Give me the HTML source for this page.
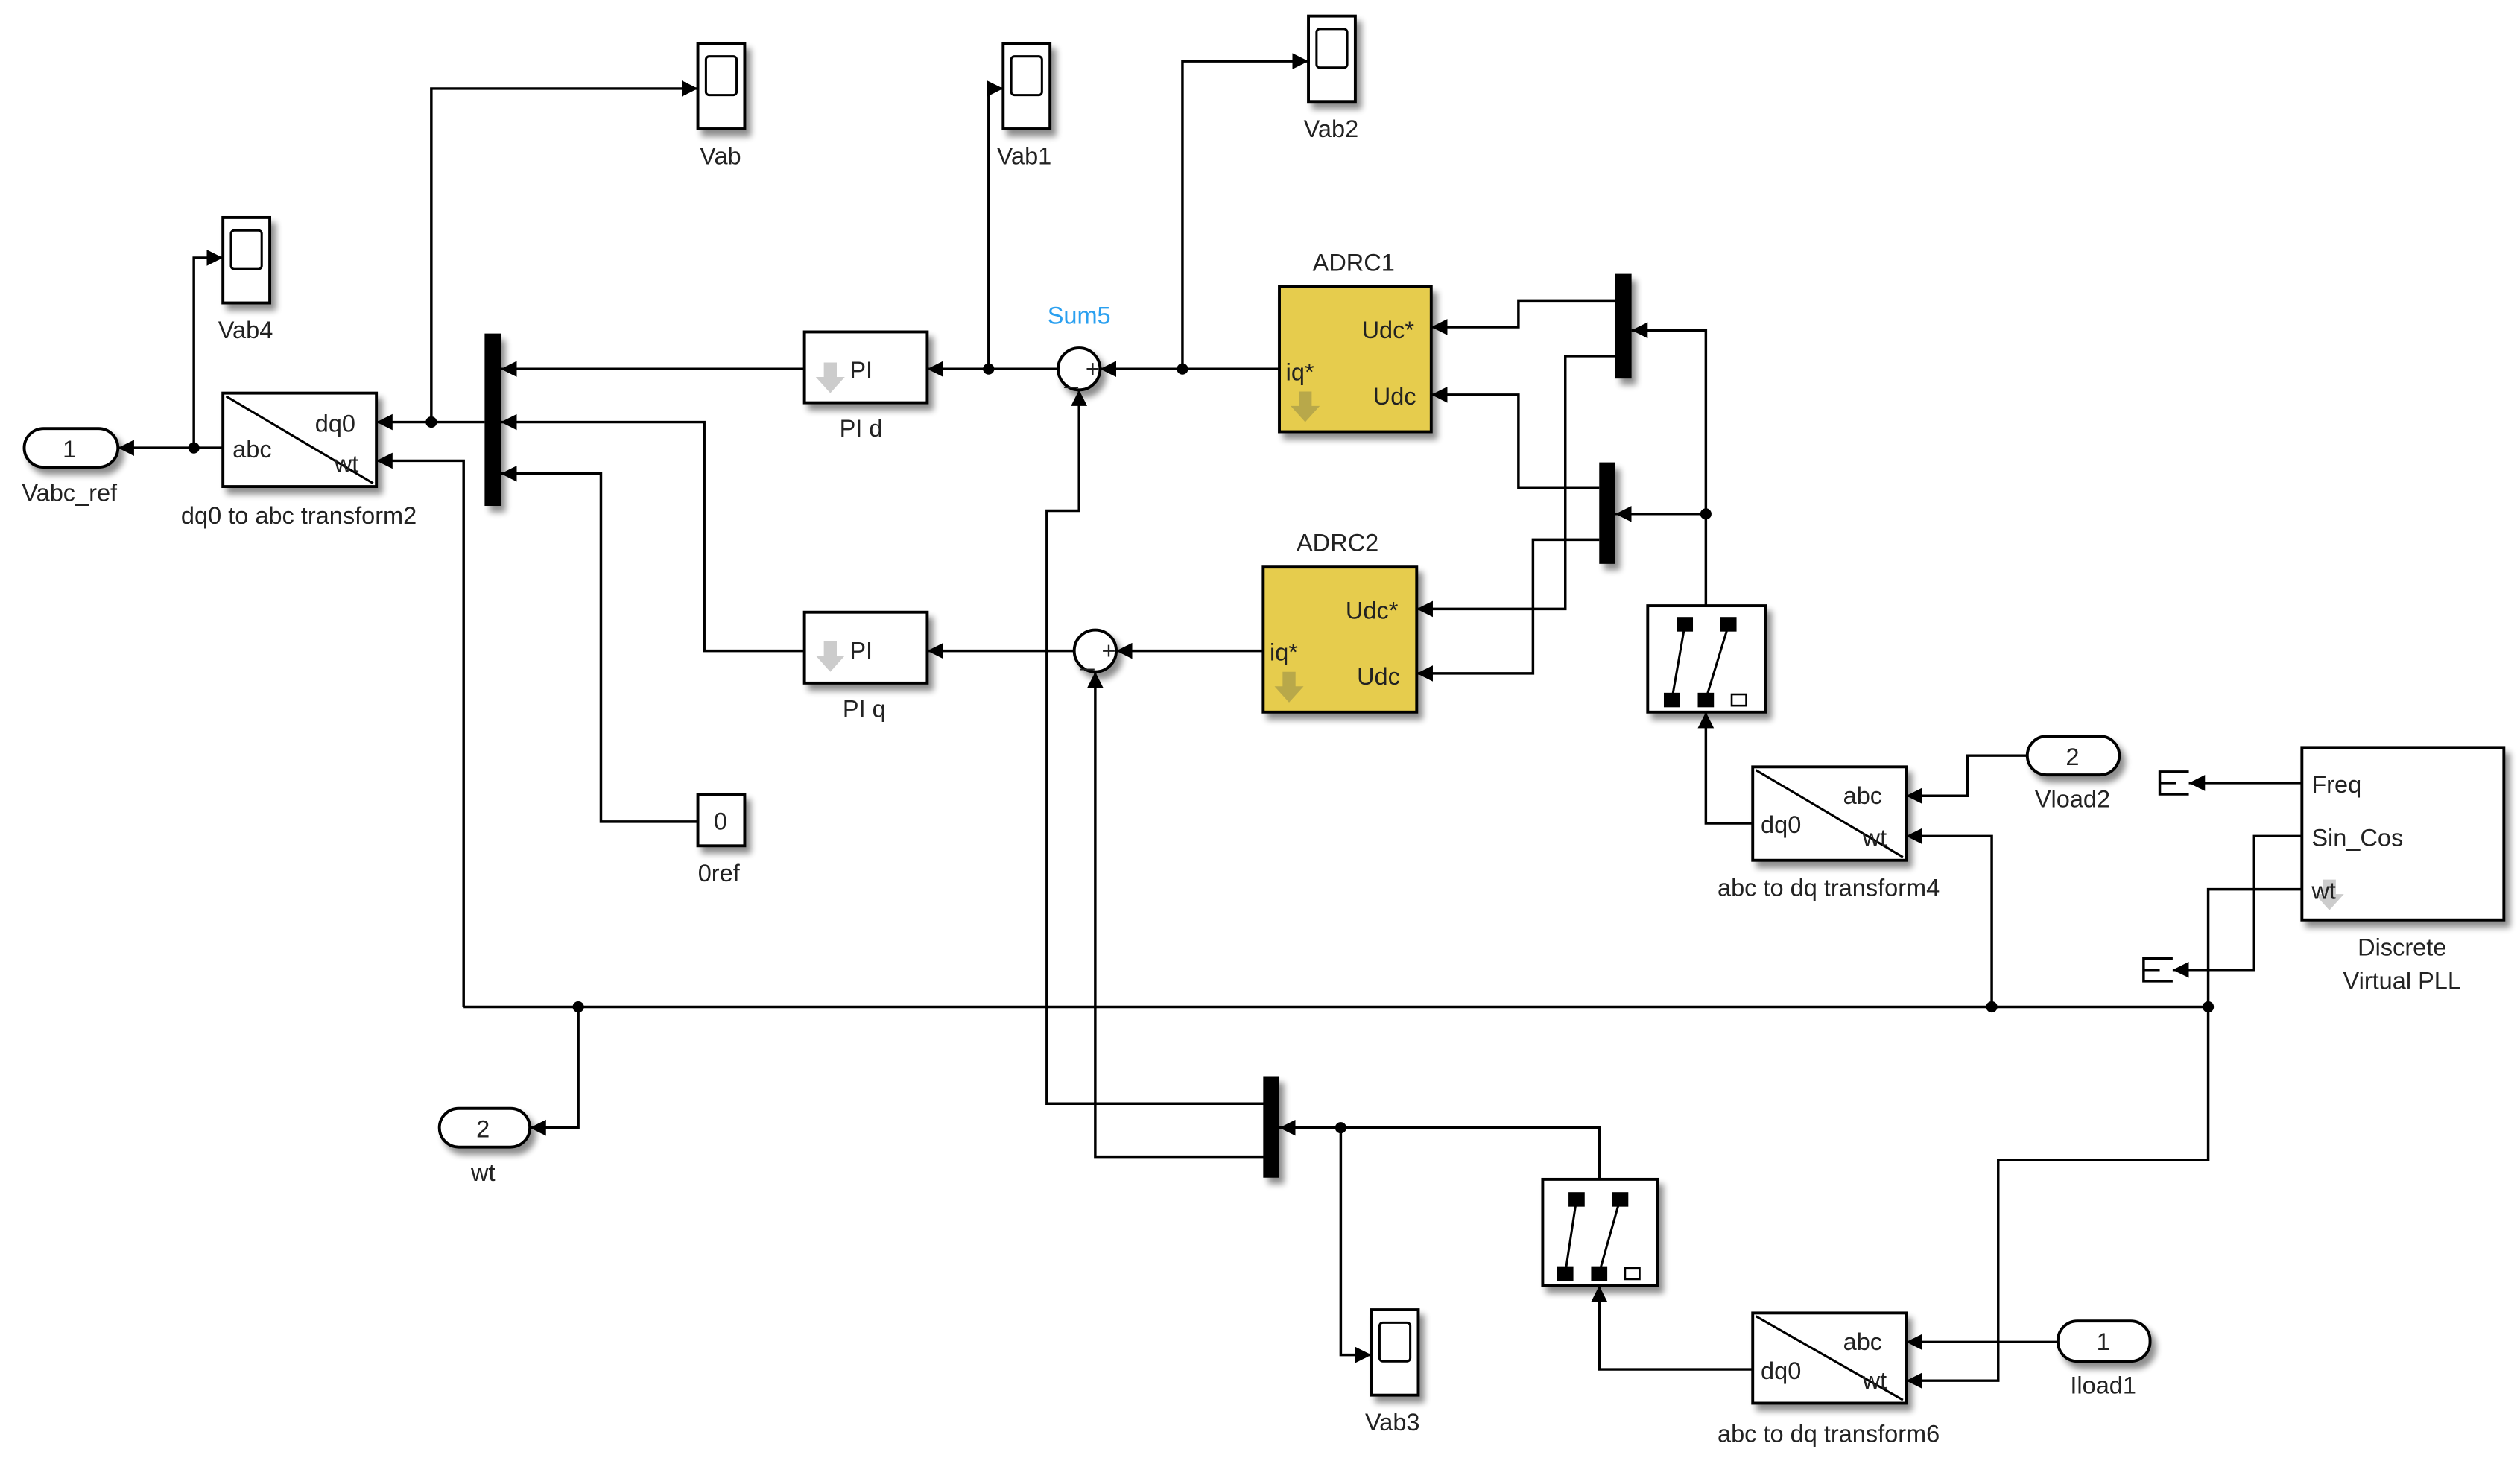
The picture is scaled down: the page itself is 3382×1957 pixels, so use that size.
<!DOCTYPE html>
<html><head><meta charset="utf-8"><style>
html,body{margin:0;padding:0;background:#fff;}
svg{display:block;}
text{font-family:"Liberation Sans",sans-serif;font-size:15px;fill:#222;}
</style></head><body>
<svg width="3382" height="1957" viewBox="0 0 1560 905" preserveAspectRatio="none" xmlns="http://www.w3.org/2000/svg">
<defs>
<marker id="a" markerUnits="userSpaceOnUse" markerWidth="12" markerHeight="12" refX="10" refY="6" orient="auto">
<path d="M0,1 L10,6 L0,11 Z" fill="#000"/></marker>
<filter id="sh" x="-20%" y="-20%" width="150%" height="150%"><feGaussianBlur in="SourceAlpha" stdDeviation="2"/><feOffset dx="3" dy="4"/><feComponentTransfer><feFuncA type="linear" slope="0.45"/></feComponentTransfer><feMerge><feMergeNode/><feMergeNode in="SourceGraphic"/></feMerge></filter>
<g id="darr"><path d="M-4,0 h8 v9 h5 l-9,10 l-9,-10 h5 z" fill="#ccc"/></g>
<g id="darr2"><path d="M-4,0 h8 v9 h5 l-9,10 l-9,-10 h5 z" fill="#b8a84a"/></g>
</defs>

<g fill="none" stroke="#000" stroke-width="1.6">
<!-- Vabc_ref / Vab4 -->
<polyline points="138,278 73,278" marker-end="url(#a)"/>
<polyline points="120,278 120,160 138,160" marker-end="url(#a)"/>
<!-- mux out to dq0, Vab -->
<polyline points="300,262 233,262" marker-end="url(#a)"/>
<polyline points="267,262 267,55 432,55" marker-end="url(#a)"/>
<!-- wt to transform2 -->
<polyline points="287,625 287,286 233,286" marker-end="url(#a)"/>
<!-- main line -->
<polyline points="287,625 1367,625"/>
<polyline points="358,625 358,700 328,700" marker-end="url(#a)"/>
<polyline points="1233,625 1233,519 1180,519" marker-end="url(#a)"/>
<polyline points="1425,552 1367,552 1367,720 1237,720 1237,857 1180,857" marker-end="url(#a)"/>
<polyline points="1425,486 1355,486" marker-end="url(#a)"/>
<polyline points="1425,519 1395,519 1395,602 1345,602" marker-end="url(#a)"/>
<!-- mux inputs -->
<polyline points="498,229 310,229" marker-end="url(#a)"/>
<polyline points="498,404 436,404 436,262 310,262" marker-end="url(#a)"/>
<polyline points="432,510 372,510 372,294 310,294" marker-end="url(#a)"/>
<!-- sum5 -->
<polyline points="655,229 574,229" marker-end="url(#a)"/>
<polyline points="612,229 612,55 621,55" marker-end="url(#a)"/>
<polyline points="792,229 681,229" marker-end="url(#a)"/>
<polyline points="732,229 732,38 810,38" marker-end="url(#a)"/>
<polyline points="785,685 648,685 648,317 668,317 668,242" marker-end="url(#a)"/>
<!-- sum2 -->
<polyline points="665,404 574,404" marker-end="url(#a)"/>
<polyline points="782,404 691,404" marker-end="url(#a)"/>
<polyline points="785,718 678,718 678,417" marker-end="url(#a)"/>
<!-- mux2 bottom -->
<polyline points="990,732 990,700 792,700" marker-end="url(#a)"/>
<polyline points="830,700 830,841 849,841" marker-end="url(#a)"/>
<polyline points="1085,850 990,850 990,798" marker-end="url(#a)"/>
<polyline points="1274,833 1180,833" marker-end="url(#a)"/>
<!-- transform4 -->
<polyline points="1255,469 1218,469 1218,494 1180,494" marker-end="url(#a)"/>
<polyline points="1085,511 1056,511 1056,442" marker-end="url(#a)"/>
<!-- switch1 to muxes -->
<polyline points="1056,376 1056,205 1010,205" marker-end="url(#a)"/>
<polyline points="1056,319 1000,319" marker-end="url(#a)"/>
<polyline points="1000,187 940,187 940,203 886,203" marker-end="url(#a)"/>
<polyline points="1000,221 969,221 969,378 877,378" marker-end="url(#a)"/>
<polyline points="990,303 940,303 940,245 886,245" marker-end="url(#a)"/>
<polyline points="990,335 949,335 949,418 877,418" marker-end="url(#a)"/>
</g>

<!-- junction dots -->
<g fill="#000">
<circle cx="120" cy="278" r="3.5"/><circle cx="267" cy="262" r="3.5"/>
<circle cx="358" cy="625" r="3.5"/><circle cx="1233" cy="625" r="3.5"/><circle cx="1367" cy="625" r="3.5"/>
<circle cx="612" cy="229" r="3.5"/><circle cx="732" cy="229" r="3.5"/>
<circle cx="830" cy="700" r="3.5"/><circle cx="1056" cy="319" r="3.5"/>
</g>

<!-- terminators -->
<g fill="none" stroke="#000" stroke-width="1.6">
<path d="M1355,479 h-18 v14 h18 M1337,486 h10"/>
<path d="M1345,595 h-18 v14 h18 M1327,602 h10"/>
</g>

<!-- blocks -->
<g filter="url(#sh)" stroke="#000" stroke-width="1.8" fill="#fff">
<rect x="432" y="27" width="29" height="53"/>
<rect x="621" y="27" width="29" height="53"/>
<rect x="810" y="10" width="29" height="53"/>
<rect x="138" y="135" width="29" height="53"/>
<rect x="849" y="813" width="29" height="53"/>
<rect x="138" y="244" width="95" height="58"/>
<rect x="498" y="206" width="76" height="44"/>
<rect x="498" y="380" width="76" height="44"/>
<rect x="432" y="493" width="29" height="32"/>
<circle cx="668" cy="229" r="13"/>
<circle cx="678" cy="404" r="13"/>
<rect x="792" y="178" width="94" height="90" fill="#e6cc4e"/>
<rect x="782" y="352" width="95" height="90" fill="#e6cc4e"/>
<rect x="1020" y="376" width="73" height="66"/>
<rect x="955" y="732" width="71" height="66"/>
<rect x="1085" y="476" width="95" height="58"/>
<rect x="1085" y="815" width="95" height="56"/>
<rect x="1425" y="464" width="125" height="107"/>
<rect x="15" y="266" width="58" height="24" rx="12"/>
<rect x="272" y="688" width="56" height="24" rx="12"/>
<rect x="1255" y="457" width="57" height="24" rx="12"/>
<rect x="1274" y="820" width="57" height="25" rx="12"/>
</g>
<g filter="url(#sh)" fill="#000">
<rect x="300" y="207" width="10" height="107"/>
<rect x="782" y="668" width="10" height="63"/>
<rect x="1000" y="170" width="10" height="65"/>
<rect x="990" y="287" width="10" height="63"/>
</g>

<!-- scope inner screens -->
<g fill="#fff" stroke="#000" stroke-width="1.4">
<rect x="437" y="35" width="19" height="24" rx="2"/>
<rect x="626" y="35" width="19" height="24" rx="2"/>
<rect x="815" y="18" width="19" height="24" rx="2"/>
<rect x="143" y="143" width="19" height="24" rx="2"/>
<rect x="854" y="821" width="19" height="24" rx="2"/>
</g>

<!-- diagonals -->
<g stroke="#000" stroke-width="1.4">
<line x1="140" y1="246" x2="231" y2="300"/>
<line x1="1087" y1="478" x2="1178" y2="532"/>
<line x1="1087" y1="817" x2="1178" y2="869"/>
<!-- switches -->
<line x1="1043" y1="388" x2="1035" y2="434"/>
<line x1="1070" y1="388" x2="1056" y2="434"/>
<line x1="976" y1="744" x2="969" y2="790"/>
<line x1="1003" y1="744" x2="990" y2="790"/>
</g>
<g fill="#000">
<rect x="1038" y="383" width="10" height="9"/><rect x="1065" y="383" width="10" height="9"/>
<rect x="1030" y="430" width="10" height="9"/><rect x="1051" y="430" width="10" height="9"/>
<rect x="971" y="740" width="10" height="9"/><rect x="998" y="740" width="10" height="9"/>
<rect x="964" y="786" width="10" height="9"/><rect x="985" y="786" width="10" height="9"/>
</g>
<g fill="#fff" stroke="#000" stroke-width="1.2">
<rect x="1072" y="431" width="9" height="7"/><rect x="1006" y="787" width="9" height="7"/>
</g>

<!-- gray arrows -->
<use href="#darr" x="514" y="225"/>
<use href="#darr" x="514" y="398"/>
<use href="#darr" x="1442" y="546"/>
<use href="#darr2" x="808" y="243"/>
<use href="#darr2" x="798" y="417"/>

<!-- sum signs -->
<text x="672" y="234" font-size="13">+</text><text x="659" y="238" font-size="13">_</text>
<text x="682" y="409" font-size="13">+</text><text x="669" y="413" font-size="13">_</text>

<!-- texts -->
<g text-anchor="middle">
<text x="446" y="102">Vab</text>
<text x="634" y="102">Vab1</text>
<text x="824" y="85">Vab2</text>
<text x="152" y="210">Vab4</text>
<text x="862" y="888">Vab3</text>
<text x="43" y="284">1</text>
<text x="43" y="311">Vabc_ref</text>
<text x="299" y="706">2</text>
<text x="299" y="733">wt</text>
<text x="1283" y="475">2</text>
<text x="1283" y="501">Vload2</text>
<text x="1302" y="838">1</text>
<text x="1302" y="865">Iload1</text>
<text x="185" y="325">dq0 to abc transform2</text>
<text x="533" y="271">PI d</text>
<text x="535" y="445">PI q</text>
<text x="446" y="515">0</text>
<text x="445" y="547">0ref</text>
<text x="668" y="201" fill="#2aa0f0" style="fill:#2aa0f0">Sum5</text>
<text x="838" y="168">ADRC1</text>
<text x="828" y="342">ADRC2</text>
<text x="1132" y="556">abc to dq transform4</text>
<text x="1132" y="895">abc to dq transform6</text>
<text x="1487" y="593">Discrete</text>
<text x="1487" y="614">Virtual PLL</text>
</g>
<text x="526" y="235">PI</text>
<text x="526" y="409">PI</text>
<text x="144" y="284">abc</text>
<text x="195" y="268">dq0</text>
<text x="207" y="293">wt</text>
<text x="1141" y="499">abc</text>
<text x="1090" y="517">dq0</text>
<text x="1153" y="525">wt</text>
<text x="1141" y="838">abc</text>
<text x="1090" y="856">dq0</text>
<text x="1153" y="862">wt</text>
<text x="843" y="210">Udc*</text>
<text x="850" y="251">Udc</text>
<text x="796" y="236">iq*</text>
<text x="833" y="384">Udc*</text>
<text x="840" y="425">Udc</text>
<text x="786" y="410">iq*</text>
<text x="1431" y="492">Freq</text>
<text x="1431" y="525">Sin_Cos</text>
<text x="1431" y="558">wt</text>
</svg>
</body></html>
